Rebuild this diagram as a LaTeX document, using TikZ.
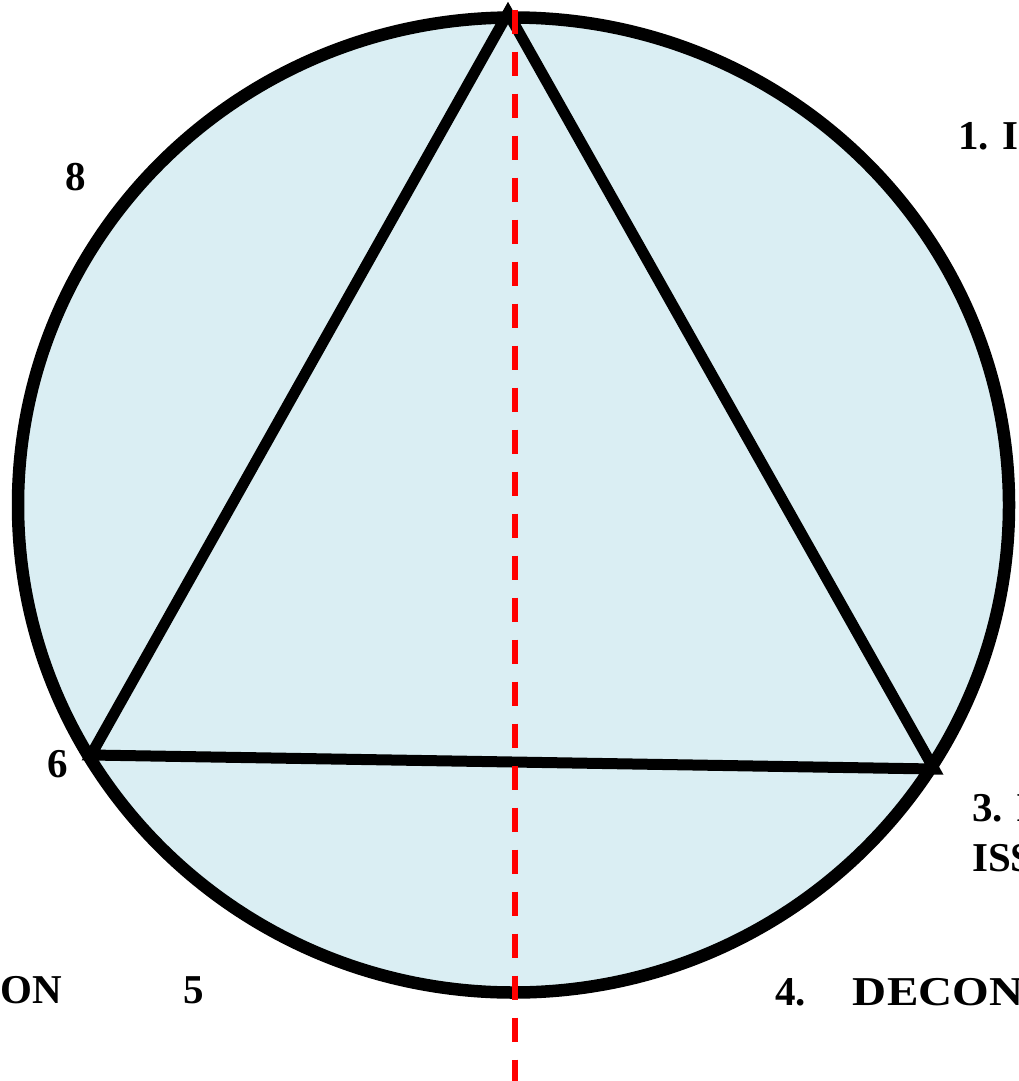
\documentclass[tikz,border=0pt]{standalone}
\usepackage{fontspec}
\setmainfont{Liberation Serif}
\definecolor{fillblue}{RGB}{218,238,243}
\tikzset{
  lbl/.style={inner sep=0pt, font=\fontsize{41}{50}\selectfont\bfseries, text=black},
  ring/.style={draw=black, line width=12.5pt, fill=fillblue},
  tri/.style={draw=black, line width=11pt, line join=miter},
  axis/.style={draw=red, line width=6pt, dash pattern=on 24pt off 18pt}
}
\begin{document}
\begin{tikzpicture}[x=1pt,y=-1pt]
\useasboundingbox (0,0) rectangle (1018,1081);
\clip (0,0) rectangle (1018,1081);
% circle
\draw[ring] (513.5,505) ellipse [x radius=495.5, y radius=487.5];
% triangle vertices
\coordinate (A) at (508,13);
\coordinate (B) at (91,755);
\coordinate (C) at (934,769);
\draw[tri] (A) -- (B) -- (C) -- cycle;
% red dashed axis
\coordinate (top) at (515,9.7);
\coordinate (bot) at (515,1095);
\draw[axis] (top) -- (bot);
% labels
\node[lbl, anchor=base west] (l1) at (958,149) {1. I};
\node[lbl, anchor=base] (l8) at (76,190) {8};
\node[lbl, anchor=base] (l6) at (58,777) {6};
\node[lbl, anchor=base west, align=left] (l3) at (972,871) {3. I\\ISS};
\node[lbl, anchor=base east] (lon) at (62,1003) {ON};
\node[lbl, anchor=base west] (l5) at (183,1003) {5};
\node[lbl, anchor=base west] (l4) at (775,1005) {4.\hspace{47pt}\scalebox{1.15}[1]{DECON}};
\end{tikzpicture}
\end{document}
